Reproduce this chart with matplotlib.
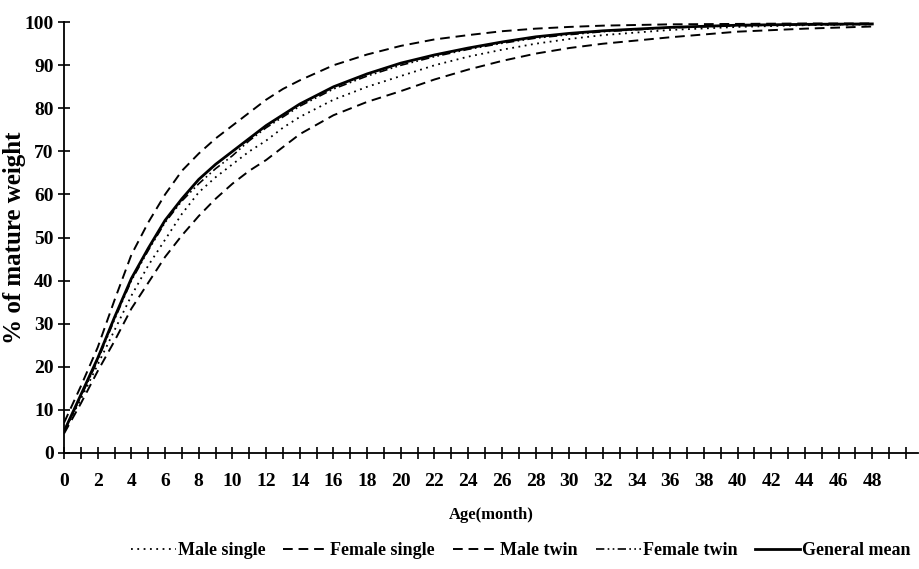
import matplotlib
matplotlib.use("Agg")
import matplotlib.pyplot as plt
import numpy as np

plt.rcParams['font.family'] = ['Liberation Serif', 'DejaVu Serif']
plt.rcParams['font.weight'] = 'bold'

# age in months and % of mature weight
age = [0, 1, 2, 3, 4, 5, 6, 7, 8, 9, 10, 11, 12, 13, 14, 16, 18, 20, 22, 24, 26, 28, 30, 32, 36, 40, 44, 48]
male_single = [5, 12.5, 20.5, 28.5, 36.5, 43.5, 49.5, 55.5, 60.5, 64, 67, 70, 72.5, 75.5, 78,
               82, 85, 87.5, 90, 92, 93.6, 95, 96.1, 97, 98.2, 98.9, 99.3, 99.5]
female_single = [7, 15.5, 24.5, 35.5, 46, 53.5, 60, 65.5, 69.5, 73, 76, 79, 82, 84.5, 86.5,
                 90, 92.5, 94.5, 96, 97, 97.9, 98.5, 98.9, 99.2, 99.5, 99.6, 99.7, 99.7]
male_twin = [4.5, 11.5, 19, 26, 33.5, 39.5, 45.5, 50.5, 55, 59, 62.5, 65.5, 68, 71, 74,
             78.4, 81.5, 84, 86.7, 89, 91, 92.7, 94, 95, 96.5, 97.8, 98.5, 99]
female_twin = [5, 13, 21.5, 31, 40, 47, 53.5, 58.5, 62.5, 66, 69, 72.5, 75.5, 78, 80.5,
               84.5, 87.5, 90, 92, 93.7, 95.1, 96.3, 97.1, 97.8, 98.7, 99.2, 99.4, 99.5]
general_mean = [5, 13.5, 22, 31.5, 40.5, 47.5, 54, 59, 63.5, 67, 70, 73, 76, 78.5, 81,
                85, 88, 90.5, 92.4, 94, 95.4, 96.6, 97.4, 98, 98.8, 99.3, 99.5, 99.6]

fig = plt.figure(figsize=(9.2, 5.69), dpi=100)
ax = fig.add_axes([0.0696, 0.204, 0.928, 0.757])

ax.plot(age, male_single, color='black', lw=1.3, linestyle=(0, (1, 2.5)), label='Male single')
ax.plot(age, female_single, color='black', lw=1.4, linestyle=(0, (5, 3)), label='Female single')
ax.plot(age, male_twin, color='black', lw=1.4, linestyle=(0, (5, 3)), label='Male twin')
ax.plot(age, female_twin, color='black', lw=1.2, linestyle=(0, (5, 2, 1, 2, 1, 2)), label='Female twin')
ax.plot(age, general_mean, color='black', lw=2.0, linestyle='-', label='General mean')

ax.set_xlim(0, 50.7)
ax.set_ylim(0, 100)
ax.set_xticks(np.arange(0, 51, 1), minor=True)
ax.set_xticks(np.arange(0, 49, 2))
ax.set_yticks(np.arange(0, 101, 10))
ax.tick_params(axis='x', which='both', direction='inout', length=9, width=1.2, pad=10, labelsize=14)
ax.tick_params(axis='y', which='major', direction='inout', length=9, width=1.2, pad=3, labelsize=14)
for s in ['top', 'right']:
    ax.spines[s].set_visible(False)
for s in ['left', 'bottom']:
    ax.spines[s].set_linewidth(1.3)

ax.set_xlabel('Age(month)', fontsize=12, fontweight='bold', labelpad=12)
ax.set_ylabel('% of mature weight', fontsize=18, fontweight='bold')
ax.yaxis.set_label_coords(-0.045, 0.5)

fig.legend(loc='center', bbox_to_anchor=(0.566, 0.032), ncol=5, frameon=False,
           handlelength=2.5, handletextpad=0.1, columnspacing=1.0,
           prop={'size': 13, 'weight': 'bold'})

fig.savefig('out.png', dpi=100)
